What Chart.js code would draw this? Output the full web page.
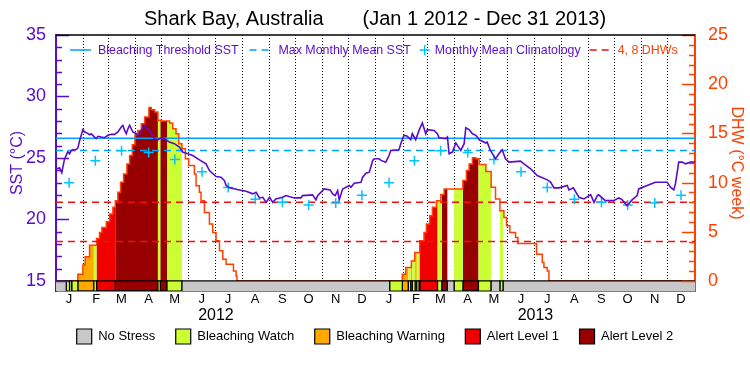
<!DOCTYPE html>
<html>
<head>
<meta charset="utf-8">
<script src="https://cdn.jsdelivr.net/npm/chart.js@4.4.1/dist/chart.umd.min.js"></script>
<style>
  html, body { margin: 0; padding: 0; background: #fff; }
</style>
</head>
<body>
<canvas id="crw" width="750" height="375"></canvas>
<script>
// time axis is days since Jan 1 2012
const monthLetters = ["J", "F", "M", "A", "M", "J", "J", "A", "S", "O", "N", "D"]
const monthStarts = [0, 31, 60, 91, 121, 152, 182, 213, 244, 274, 305, 335, 366, 397, 425, 456, 486, 517, 547, 578, 609, 639, 670, 700, 731]
const yearLabels = ["2012", "2013"]
const yearMids = [183, 548.5]

const sstTicks = [15, 20, 25, 30, 35]
const dhwTicks = [0, 5, 10, 15, 20, 25]

const mmmSST = 25.6
const thresholdSST = 26.6
const dhwLevels = [4, 8]

// monthly mean climatology, plotted mid month
const climDays = [15, 45, 75, 106, 136, 167, 197, 228, 259, 289, 320, 350, 381, 410, 440, 471, 501, 532, 562, 593, 624, 654, 685, 715]
const climSST = [22.98, 24.77, 25.59, 25.45, 24.88, 23.87, 22.59, 21.64, 21.39, 21.18, 21.34, 21.96,
  22.98, 24.77, 25.59, 25.45, 24.88, 23.87, 22.59, 21.64, 21.39, 21.18, 21.34, 21.96]

// SST
const sstDays = [0, 4, 6.6, 9.7, 13.5, 15.5, 17.4, 19.3, 21.2, 23, 25, 27, 30.7, 32.7, 36.4, 38.4, 40.3, 44, 46, 48, 51.8, 55.6, 59.4, 63.2, 67,
  70.8, 74.7, 76.5, 78.5, 80.4, 82.3, 84.2, 88, 91.9, 93.7, 95.7, 97.6, 100.6, 103.3, 107, 110.9, 112.9, 116.6, 120.5, 124.3,
  129.7, 135.4, 141.2, 144.9, 150.7, 156.4, 164.1, 171.6, 175.5, 183.1, 188.8, 192.7, 194.6, 198.4, 209.9, 217.5, 225.1, 228.9,
  232.8, 236.6, 240.4, 244.3, 248, 251.5, 259.2, 263, 272.5, 280.1, 282, 293.5, 297.3, 299.3, 306.8, 313.7, 316.5, 319.4, 322.2,
  324, 327.9, 335.5, 337.4, 341.2, 348.9, 350.8, 354.6, 358.4, 362.3, 364.1, 369.5, 371.8, 377.2, 381, 382.9, 392.4, 394.4,
  398.1, 401.9, 405.8, 407.6, 411.5, 415.3, 419.1, 423, 424.8, 432.5, 436.3, 438.2, 445.9, 447.8, 449.7, 453.5, 457.4, 459.2,
  463.1, 466.9, 468.8, 472.6, 476.4, 480.3, 484.1, 491.8, 493.2, 497, 502.8, 506.6, 510.4, 514.2, 518.1, 531.4, 535.3, 542.9,
  550.5, 562, 565.8, 569.7, 575.4, 584.9, 586.8, 591.8, 598.3, 604, 611.6, 615.5, 619.3, 620.8, 628.4, 638, 643.7, 647.6, 653.3,
  659, 664.8, 666.6, 676.2, 685.7, 699.1, 702.9, 706.7, 708.6, 712.4, 716.3, 720.1, 725.8, 731]
const sstValues = [24.1, 24.2, 23.8, 24.9, 25.5, 25.34, 25.6, 25.67, 25.61, 25.7, 25.8, 26.4, 27.3, 27.11, 27.0, 26.89, 26.97, 26.7, 26.57, 26.76, 26.7, 26.65, 26.84, 26.92, 26.92,
  27.11, 27.52, 27.65, 27.24, 26.97, 27.38, 27.65, 27.11, 26.97, 26.76, 26.97, 27.24, 27.65, 27.38, 27.3, 26.7, 26.57, 26.48, 26.65, 26.57,
  26.29, 26.16, 25.88, 25.48, 25.34, 25.2, 24.85, 24.52, 23.98, 23.49, 23.43, 23.16, 22.76, 22.57, 22.4, 22.29, 22.08, 22.21,
  21.75, 21.8, 21.39, 21.8, 21.39, 21.67, 21.8, 21.94, 21.75, 21.75, 21.94, 22.0, 21.59, 21.94, 22.48, 22.4, 22.08, 21.94, 22.35,
  21.59, 22.48, 22.76, 22.62, 22.95, 23.03, 23.43, 23.76, 23.84, 24.8, 24.93, 24.93, 24.8, 24.66, 25.2, 25.61, 25.67, 26.16,
  26.84, 26.76, 26.48, 26.97, 26.48, 27.24, 27.84, 26.97, 27.3, 27.24, 26.97, 26.65, 26.57, 26.7, 25.34, 25.48, 26.22, 26.02,
  25.61, 26.16, 27.46, 27.3, 26.97, 26.84, 26.48, 26.22, 26.29, 25.61, 24.93, 25.34, 25.67, 24.93, 24.66, 24.74, 24.52, 24.12,
  23.57, 23.22, 23.03, 22.57, 22.57, 22.76, 22.4, 22.57, 21.8, 21.67, 22.02, 21.39, 21.94, 22.0, 21.53, 21.53, 21.75, 21.61, 21.12,
  21.59, 21.94, 22.48, 22.76, 23.03, 23.03, 22.62, 22.4, 22.89, 24.66, 24.66, 24.52, 24.66, 24.66]

// degree heating weeks, value holds from that day to the next
const dhwDays = [0, 25, 30.7, 33.4, 38.4, 46.4, 49.8, 52.5, 57.5, 61.3, 65.1, 67.8, 70.8, 73.9, 77.3, 81.1, 84.2, 87.3, 90.3, 93.7,
  97.6, 101.4, 106.3, 109, 113, 116.6, 120.5, 130, 133.5, 137.3, 140.4, 144.1, 148, 151.8, 158.3, 160.2, 164, 165.9, 169.8,
  175.5, 179.3, 183.1, 187, 190.8, 194.6, 203, 206, 207,
  396.2, 400.1, 406.5, 410.4, 416.1, 421, 423.7, 427.6, 430.6, 435.2, 440.2, 444, 465.5, 469.5, 472.6, 476.4, 480.3, 484.1,
  491.8, 497.8, 502.8, 507.8, 512.4, 515.4, 519.2, 525.7, 528.4, 549.7, 556.3, 558.2, 562, 563.9]
const dhwValues = [0, 0.68, 1.63, 2.45, 3.64, 4.32, 4.93, 5.44, 6.02, 6.8, 7.48, 8.16, 9.01, 10.03, 10.88, 11.9, 12.76, 13.84, 14.8, 15.3,
  15.99, 16.67, 17.62, 17.41, 17.18, 16.33, 16.26, 16.05, 15.48, 14.97, 13.95, 13.44, 12.41, 11.73, 10.88, 9.69, 9.01, 8.16, 6.97,
  5.78, 4.93, 4.08, 3.06, 2.21, 1.7, 1.02, 0.51, 0,
  0.68, 1.36, 2.04, 2.89, 4.08, 4.93, 5.78, 6.63, 7.48, 8.16, 8.78, 9.35, 10.2, 11.22, 11.9, 12.52, 12.41, 11.84,
  11.12, 9.52, 8.33, 7.14, 6.46, 5.61, 4.93, 4.42, 3.81, 2.72, 1.87, 1.36, 1.02, 0]

// stress level: 0 none, 1 watch, 2 warning, 3 alert 1, 4 alert 2
const stressNames = ["No Stress", "Bleaching Watch", "Bleaching Warning", "Alert Level 1", "Alert Level 2"]
const stressColors = ["#c8c8c8", "#ccff33", "#ffaa00", "#f00000", "#980000"]
const stressDays = [0, 11.7, 15.5, 18, 25, 43.3, 46.4, 67.8, 116.6, 119.3, 127, 144.1,
  381.7, 396.2, 403.1, 405.8, 407.7, 410.8, 412.7, 415.3, 416.1, 436.5, 441.3, 447.7, 455.4, 465.5, 483.3, 497.8, 507.8, 511.6]
const stressLevels = [0, 1, 0, 1, 2, 1, 3, 4, 1, 4, 1, 0,
  1, 2, 1, 2, 1, 2, 1, 2, 3, 1, 4, 0, 1, 4, 1, 0, 1, 0]

const fontFam = '"Liberation Sans", Arial, Helvetica, sans-serif'
const purple = "#5a0ccc"
const orangeRed = "#ff4000"
const threshBlue = "#00a0ff"
const climCyan = "#00c4ff"
const dashRed = "#ee1111"

// axis ranges: the bottom strip below 15 °C / 0 DHW holds the stress bar
const sstMin = 14.18
const dhwMin = -1.02

Chart.defaults.font.family = fontFam

function stepAt(days, vals, d) {
  let v = vals[0]
  for (let i = 0; i < days.length; i++) if (days[i] <= d) v = vals[i]
  return v
}
const breaks = [...new Set([...dhwDays, ...stressDays, 731])].sort((a, b) => a - b)
const merged = breaks.map((d) => ({ d: d, dhw: stepAt(dhwDays, dhwValues, d), lvl: stepAt(stressDays, stressLevels, d) }))

const datasets = []

// stress bar along the bottom
stressNames.forEach((name, lvl) => {
  datasets.push({
    label: name,
    statusBar: true,
    data: merged.map((m) => ({ x: m.d, y: m.lvl === lvl ? 15 : sstMin })),
    yAxisID: "y",
    stepped: true,
    fill: { value: sstMin },
    backgroundColor: stressColors[lvl],
    borderColor: "#000",
    borderWidth: 1.2,
    pointRadius: 0,
    order: 3,
  })
})

// DHW area coloured by stress level
for (let lvl = 1; lvl <= 4; lvl++) {
  datasets.push({
    label: stressNames[lvl] + " DHW",
    data: merged.map((m) => ({ x: m.d, y: m.lvl === lvl ? m.dhw : 0 })),
    yAxisID: "y2",
    stepped: true,
    fill: { value: 0 },
    backgroundColor: stressColors[lvl],
    borderColor: "rgba(0,0,0,0)",
    borderWidth: 0,
    pointRadius: 0,
    order: 5,
  })
}

datasets.push({
  label: "DHW",
  data: merged.map((m) => ({ x: m.d, y: m.dhw })),
  yAxisID: "y2",
  stepped: true,
  fill: false,
  borderColor: orangeRed,
  borderWidth: 1.5,
  pointRadius: 0,
  order: 4,
})

dhwLevels.forEach((lv) => {
  datasets.push({
    label: lv + " DHW",
    data: [{ x: 0, y: lv }, { x: 731, y: lv }],
    yAxisID: "y2",
    borderColor: dashRed,
    borderWidth: 1.5,
    borderDash: [7, 5],
    pointRadius: 0,
    fill: false,
    order: 2,
  })
})

datasets.push({
  label: "Bleaching Threshold SST",
  data: [{ x: 0, y: thresholdSST }, { x: 731, y: thresholdSST }],
  yAxisID: "y",
  borderColor: threshBlue,
  borderWidth: 1.5,
  pointRadius: 0,
  fill: false,
  order: 2,
})
datasets.push({
  label: "Max Monthly Mean SST",
  data: [{ x: 0, y: mmmSST }, { x: 731, y: mmmSST }],
  yAxisID: "y",
  borderColor: threshBlue,
  borderWidth: 1.5,
  borderDash: [7, 5],
  pointRadius: 0,
  fill: false,
  order: 2,
})
datasets.push({
  label: "Monthly Mean Climatology",
  data: climDays.map((d, i) => ({ x: d, y: climSST[i] })),
  yAxisID: "y",
  showLine: false,
  pointStyle: "cross",
  pointRadius: 5,
  pointBorderColor: climCyan,
  pointBorderWidth: 1.5,
  order: 1,
})
datasets.push({
  label: "SST",
  data: sstDays.map((d, i) => ({ x: d, y: sstValues[i] })),
  yAxisID: "y",
  borderColor: purple,
  borderWidth: 1.6,
  pointRadius: 0,
  fill: false,
  tension: 0,
  order: 0,
})

// inward tick marks on both value axes plus the top frame line
const innerTicks = {
  id: "innerTicks",
  afterDraw(chart) {
    const { ctx, chartArea: a, scales } = chart
    ctx.save()
    ctx.lineWidth = 1.5
    ctx.strokeStyle = purple
    for (let v = 15; v <= 35; v++) {
      const py = Math.round(scales.y.getPixelForValue(v)) + 0.5
      ctx.beginPath()
      ctx.moveTo(a.left, py)
      ctx.lineTo(a.left + (v % 5 === 0 ? 13 : 6), py)
      ctx.stroke()
    }
    ctx.strokeStyle = orangeRed
    for (let v = 0; v <= 25; v++) {
      const py = Math.round(scales.y2.getPixelForValue(v)) + 0.5
      ctx.beginPath()
      ctx.moveTo(a.right, py)
      ctx.lineTo(a.right - (v % 5 === 0 ? 13 : 6), py)
      ctx.stroke()
    }
    ctx.strokeStyle = "#000"
    ctx.beginPath()
    ctx.moveTo(a.left, a.top)
    ctx.lineTo(a.right, a.top)
    ctx.stroke()
    ctx.restore()
  },
}

// key for the lines, drawn inside the plot under the top frame
const topKey = {
  id: "topKey",
  afterDraw(chart) {
    const { ctx, chartArea: a } = chart
    const y = a.top + 15
    let x = a.left + 14
    ctx.save()
    ctx.font = "12.4px " + fontFam
    ctx.textBaseline = "middle"
    ctx.lineWidth = 1.5
    const seg = (len, color, dash) => {
      ctx.strokeStyle = color
      ctx.setLineDash(dash)
      ctx.beginPath()
      ctx.moveTo(x, y)
      ctx.lineTo(x + len, y)
      ctx.stroke()
      ctx.setLineDash([])
      x += len
    }
    const txt = (s, color) => {
      ctx.fillStyle = color
      ctx.fillText(s, x, y + 1)
      x += ctx.measureText(s).width
    }
    seg(21, threshBlue, [])
    x += 7
    txt("Bleaching Threshold SST", purple)
    x += 11
    seg(24, threshBlue, [7, 5])
    x += 5
    txt("Max Monthly Mean SST", purple)
    x += 9
    ctx.strokeStyle = climCyan
    ctx.beginPath()
    ctx.moveTo(x, y); ctx.lineTo(x + 10, y)
    ctx.moveTo(x + 5, y - 5); ctx.lineTo(x + 5, y + 5)
    ctx.stroke()
    x += 15
    txt("Monthly Mean Climatology", purple)
    x += 9
    seg(23, dashRed, [7, 5])
    x += 5
    txt("4, 8 DHWs", orangeRed)
    ctx.restore()
  },
}

new Chart(document.getElementById("crw"), {
  type: "line",
  data: { datasets: datasets },
  options: {
    responsive: false,
    devicePixelRatio: 1,
    animation: false,
    layout: { padding: { left: 0, right: 0, top: 0, bottom: 21 } },
    plugins: {
      tooltip: { enabled: false },
      title: {
        display: true,
        text: "Shark Bay, Australia       (Jan 1 2012 - Dec 31 2013)",
        color: "#000",
        font: { size: 20, weight: "normal" },
        padding: { top: 7, bottom: 4 },
      },
      legend: {
        position: "bottom",
        labels: {
          generateLabels: (chart) =>
            Chart.defaults.plugins.legend.labels.generateLabels(chart)
              .filter((l) => chart.data.datasets[l.datasetIndex].statusBar)
              .map((l, i, arr) => Object.assign(l, { text: i < arr.length - 1 ? l.text + "    " : l.text })),
          boxWidth: 15,
          boxHeight: 15,
          padding: 6,
          color: "#000",
          font: { size: 13 },
        },
      },
    },
    scales: {
      x: {
        type: "linear",
        min: 0,
        max: 731,
        weight: 0,
        afterBuildTicks: (s) => { s.ticks = monthStarts.map((v) => ({ value: v })) },
        afterFit: (s) => { s.height = 14 },
        grid: {
          color: (c) => (c.index === 0 || c.index === monthStarts.length - 1 ? "rgba(0,0,0,0)" : "#000"),
          lineWidth: 1,
          drawTicks: false,
        },
        border: { color: "#000", width: 1.5, dash: [1, 2] },
        ticks: {
          autoSkip: false,
          maxRotation: 0,
          padding: 1,
          labelOffset: 13,
          color: "#000",
          font: { size: 13 },
          callback: (v, i) => (i < monthStarts.length - 1 ? monthLetters[i % 12] : ""),
        },
      },
      x2: {
        type: "linear",
        position: "bottom",
        min: 0,
        max: 731,
        weight: 1,
        afterBuildTicks: (s) => { s.ticks = yearMids.map((v) => ({ value: v })) },
        afterFit: (s) => { s.height = 18 },
        grid: { display: false, drawTicks: false },
        border: { display: false },
        ticks: {
          autoSkip: false,
          maxRotation: 0,
          padding: 1,
          color: "#000",
          font: { size: 16 },
          callback: (v, i) => yearLabels[i],
        },
      },
      y: {
        type: "linear",
        position: "left",
        min: sstMin,
        max: 35,
        afterBuildTicks: (s) => { s.ticks = sstTicks.map((v) => ({ value: v })) },
        afterFit: (s) => { s.width = 56 },
        grid: { display: false },
        border: { color: purple, width: 2 },
        ticks: { color: purple, font: { size: 18 }, padding: 2 },
        title: { display: true, text: "SST (°C)", color: purple, font: { size: 16 }, padding: { top: 8, bottom: 0 } },
      },
      y2: {
        type: "linear",
        position: "right",
        min: dhwMin,
        max: 25,
        afterBuildTicks: (s) => { s.ticks = dhwTicks.map((v) => ({ value: v })) },
        afterFit: (s) => { s.width = 55 },
        grid: { display: false },
        border: { color: orangeRed, width: 2 },
        ticks: { color: orangeRed, font: { size: 18 }, padding: 5 },
        title: { display: true, text: "DHW (°C week)", color: orangeRed, font: { size: 16 }, padding: { top: 4, bottom: 0 } },
      },
    },
  },
  plugins: [innerTicks, topKey],
})
</script>
</body>
</html>
